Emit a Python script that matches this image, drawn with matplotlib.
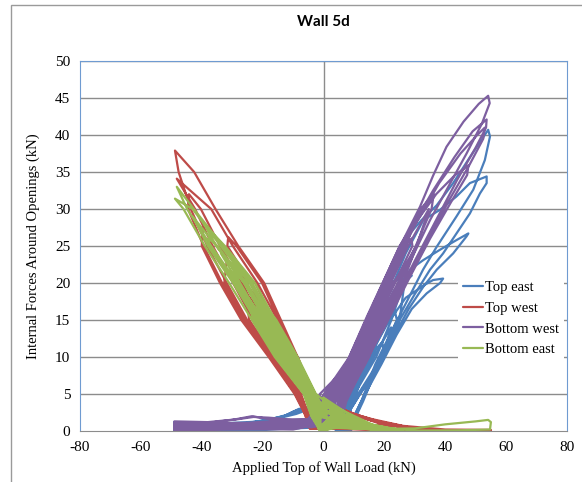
import matplotlib.pyplot as plt
from matplotlib.patches import Rectangle

plt.rcParams['axes.unicode_minus'] = False

# Top east (blue) - traced loop vertices
top_east_x = [3, -2, -6, -10, -15, -25, -40, -49, -49, -30, -12, -3, 4,
              5, 5.8, 7.2, 12.9, 10.8, 8.2, 8,
              4, 5, 6, 11, 18.7, 16.4, 9.6, 7.4, 7,
              6, 6.6, 8.4, 14.6, 19.3, 20, 12, 9, 9,
              4, -1, -5, -9, -14, -28, -49, -49, -20, -5, 3,
              5.5, 6.2, 7.8, 13.7, 18.7, 23, 24.1, 19.1, 11.4, 8.6, 8.5,
              7, 7.4, 9.6, 16.4, 22.2, 19.6, 11.7, 8.8, 8.8,
              5.3, 6, 7.5, 13.3, 18.3, 23.1, 20.5, 15.5, 9, 7, 6.5,
              5, 9, 15, 21, 27, 33, 36, 39.3, 38.3, 33.9, 29, 24, 19, 13, 9,
              4, 0, -4, -8, -13, -25, -49, -49, -15, 0, 5,
              6.5, 7, 9, 15.5, 20.5, 26.6, 25, 20, 12, 9, 9,
              4.5, 5.4, 6.6, 11.9, 16.9, 21.8, 29, 26.3, 22.3, 17.3, 10.2, 7.8, 7.5,
              6, 11, 17, 23, 28.4, 32.8, 38.3, 43.7, 47.6, 47, 42.6, 37.2, 32.8, 28, 22, 16, 10, 8,
              4, -1, -5, -10, -20, -35, -49, -49, -20, 0, 5,
              5, 10, 16, 22, 27, 32.8, 38.3, 43.7, 48.1, 53.6, 53.6, 51.4, 48.1, 43.7, 39.3, 35, 30, 25, 19, 13, 9,
              4, 8, 13, 18, 23, 28.4, 32.2, 37.2, 42.6, 48.1, 54.1, 54.7, 53, 49.2, 43.7, 37.2, 32.7, 28, 23, 17, 12, 9]
top_east_y = [0.5, 1.8, 3.2, 2.6, 1.6, 1.0, 0.8, 1.1, 0.1, 0.1, 0.3, 0.6, 0.8,
              0, 3, 5, 8, 5, 3, 0,
              0, 3, 5, 10, 15, 10, 5, 3, 0,
              0, 3, 5, 10, 12, 10, 5, 3, 0,
              0.3, 1.5, 2.9, 2.3, 1.8, 0.9, 0.9, 0.2, 0.3, 0.7, 1.2,
              0, 3, 5, 10, 15, 17, 15, 10, 5, 3, 0,
              0, 3, 5, 10, 14, 10, 5, 3, 0,
              0, 3, 5, 10, 15, 19, 15, 10, 5, 3, 0,
              1, 5, 10, 14.5, 18, 19.7, 20.4, 20.6, 20, 18.6, 16.5, 13, 9, 4.5, 1,
              0.5, 1.5, 2.8, 3.0, 2.0, 1.0, 1.2, 0.1, 0.3, 0.6, 1.5,
              0, 3, 5, 10, 15, 20, 15, 10, 5, 3, 0,
              0, 3, 5, 10, 15, 20, 21, 20, 15, 10, 5, 3, 0,
              1, 6, 11.5, 16.5, 21.8, 23.1, 24.5, 25.8, 26.7, 26.3, 24, 21.8, 19.5, 16.5, 12, 7, 2, 0,
              0.5, 2, 3.2, 2.4, 1.3, 1, 1.2, 0.3, 0.2, 0.5, 2,
              2, 7, 13, 19, 24, 28.5, 29.9, 31.7, 33.5, 34.4, 33.5, 32.1, 29.4, 26.7, 24, 21.8, 18.5, 15, 10, 4, 0.5,
              3, 7, 12, 17, 22, 26.7, 28.5, 30.5, 33.5, 37, 40.7, 39.8, 36.6, 32.6, 29, 24.9, 21.8, 18, 14, 9, 3.5, 0]

# Top west (red)
top_west_x = [0,
              -3.5, -8.5, -16.8, -12.3, -5.9, -4.6,
              -4.5, 3, 12, 22, 30, 26, 20, 14, 9, 5, 2, 0,
              -5.3, -11.4, -18.1, -24.3, -22.5, -14.7, -7.4, -5.6,
              -4, 5, 15, 20, 15, 9, 4, 0,
              -4.1, -9.5, -15.3, -26, -24.4, -16.1, -8.3, -6.2,
              -4.5, 4, 14, 26, 40, 28, 18, 10, 4, 0,
              -3.8, -9, -14.7, -20.2, -28.6, -31.3, -31.6, -23.9, -17.9, -11.4, -5.3, -4.2,
              -4.5, 5, 12, 24, 18, 12, 7, 3, 0,
              -4.7, -10.4, -16.6, -22.4, -31.8, -32.6, -25.7, -17.1, -8.9, -6.6,
              -4.5, 3, 12, 22, 28, 24, 18, 12, 7, 3, 0,
              -5.9, -12.3, -18.6, -25.3, -32.8, -39.5, -40, -34, -27, -18, -9.5, -7,
              -4, 5, 15, 22, 15, 9, 4, 0,
              -6.5, -13.3, -20.5, -26.8, -34, -40.3, -44.2, -44.5, -39.4, -33.3, -26.4, -17.5, -9.2, -6.8,
              -4.5, 4, 14, 26, 38, 28, 18, 10, 4, 0,
              -4.4, -9.9, -15.1, -21.7, -29.8, -36.9, -48.2, -42.2, -36.4, -29.7, -23.1, -15.2, -7.7, -5.8,
              -4.5, 6, 18, 30, 45, 55, 55, 40, 26, 16, 9, 3, 0,
              -3.5, -8.5, -14, -19.5, -28, -35.5, -42.5, -48.8, -47.6, -43.6, -38.2, -31.8, -25.1, -16.6, -8.6, -6.4,
              -4.5, 10, 20, 30, 45, 54.7]
top_west_y = [3.5,
              5, 10, 15, 10, 5, 3,
              0.6, 0.5, 0.4, 0.2, 0.1, 0.5, 1.0, 1.6, 2.3, 2.9, 3.5, 4.0,
              5, 10, 15, 18, 15, 10, 5, 3,
              0.8, 0.6, 0.5, 0.9, 1.6, 2.5, 3.4, 4.1,
              5, 10, 15, 20, 15, 10, 5, 3,
              0.4, 0.3, 0.3, 0.1, 0.05, 0.5, 1.3, 2.3, 3.3, 3.9,
              5, 10, 15, 20, 25, 26.2, 25, 20, 15, 10, 5, 3,
              0.3, 0.5, 0.8, 0.7, 1.2, 2.0, 2.7, 3.4, 3.9,
              5, 10, 15, 20, 23, 20, 15, 10, 5, 3,
              0.5, 0.4, 0.3, 0.2, 0.2, 0.6, 1.2, 1.9, 2.7, 3.5, 4.1,
              5, 10, 15, 20, 25, 28, 25, 20, 15, 10, 5, 3,
              0.7, 0.6, 0.4, 0.5, 1.5, 2.4, 3.2, 3.8,
              5, 10, 15, 20, 25, 30, 32, 30, 25, 20, 15, 10, 5, 3,
              0.4, 0.3, 0.2, 0.1, 0.05, 0.5, 1.3, 2.2, 3.2, 3.8,
              5, 10, 15, 20, 25, 30, 34.1, 30, 25, 20, 15, 10, 5, 3,
              0.5, 0.3, 0.2, 0.1, 0.05, 0, 0.15, 0.2, 0.7, 1.6, 2.4, 3.4, 4.2,
              5, 10, 15, 20, 25, 30, 35, 37.9, 35, 30, 25, 20, 15, 10, 5, 3,
              0.5, 0.4, 0.2, 0.1, 0.05, 0]

# Bottom west (purple)
bottom_west_x = [0, -5, -15, -23.5, -30, -40, -49, -49, -35, -20, -8, -2,
                 -1.7, -0.6, 4.3, 9.2, 12.5, 11.8, 7.3, 3, 1.5,
                 -2.1, -1.1, 3.9, 8.8, 14.3, 20.9, 16.2, 11.1, 6.5, 2.1, 0.7,
                 -0.1, 1.2, 5.8, 10.5, 15.7, 18, 17.9, 13.1, 8.8, 4.8, 3.1,
                 0, -4, -10, -20, -30, -42, -49, -49, -30, -12, -4,
                 0.3, 1.7, 6.1, 10.8, 15.9, 21.3, 19.2, 14.7, 10.6, 7.1, 5.1,
                 -2.5, -1.5, 3.5, 8.5, 14, 19.5, 25, 29.6, 27.1, 21.5, 15.7, 10.5, 5.8, 1.2, -0.1,
                 1.5, 3, 7.3, 11.8, 16.8, 22.8, 26.4, 25.4, 19, 14.4, 10.3, 6.6, 4.7,
                 0, -5, -12, -18, -23, -28, -38, -49, -49, -40, -25, -10, -3,
                 -0.9, 0.3, 5, 9.8, 15.1, 20.8, 26.4, 28.9, 29.2, 23.4, 17.3, 12.4, 8, 3.9, 2.3,
                 2.3, 3.9, 8, 12.4, 17.3, 23.4, 30.6, 26, 19.5, 15, 11, 7.5, 5.5,
                 0.7, 2.1, 6.5, 11.1, 16.2, 22.1, 27.8, 34.6, 30.6, 24.7, 18.4, 13.7, 9.5, 5.7, 3.9,
                 0, -3, -8, -16, -30, -49, -49, -30, -10, -3,
                 0, 7, 15, 23, 30, 37, 43, 47.6, 47.2, 42, 35, 28, 20, 12, 5,
                 -1.3, -0.2, 4.6, 9.5, 14.8, 20.5, 26, 31.9, 36.2, 35.5, 30.3, 24.4, 18.1, 13.4, 9.1, 5.3, 3.5,
                 0, 8, 16, 24, 31, 38, 45, 50.5, 53, 52.5, 48, 41, 34, 27, 19, 11, 4,
                 0, -3, -10, -20, -35, -49, -49, -25, -5,
                 -1, 6, 14, 22, 29, 36, 43, 49, 53.6, 53.4, 50, 44, 37, 30, 22, 15, 8, 3,
                 -1.2, -1.2, 6.5, 14.2, 23.5, 31.7, 36, 40.4, 46, 51, 54.1, 54.6, 52, 47, 41, 35, 28, 20, 14, 7, 3]
bottom_west_y = [0.5, 1.2, 1.4, 2.0, 1.5, 1.0, 0.9, 0.3, 0.5, 0.6, 0.4, 1.0,
                 1, 4, 7, 10, 12, 10, 7, 4, 1,
                 1, 4, 7, 10, 15, 20, 15, 10, 7, 4, 1,
                 1, 4, 7, 10, 15, 16, 15, 10, 7, 4, 1,
                 0.8, 0.5, 0.8, 1.0, 0.8, 0.6, 0.7, 0.1, 0.2, 0.3, 1.5,
                 1, 4, 7, 10, 15, 18, 15, 10, 7, 4, 1,
                 1, 4, 7, 10, 15, 20, 25, 28, 25, 20, 15, 10, 7, 4, 1,
                 1, 4, 7, 10, 15, 20, 22, 20, 15, 10, 7, 4, 1,
                 1, 1.5, 1.6, 1.8, 1.9, 1.6, 1.2, 1.3, 0.5, 0.6, 0.5, 0.8, 2,
                 1, 4, 7, 10, 15, 20, 25, 26, 25, 20, 15, 10, 7, 4, 1,
                 1, 4, 7, 10, 15, 20, 25, 20, 15, 10, 7, 4, 1,
                 1, 4, 7, 10, 15, 20, 25, 30, 25, 20, 15, 10, 7, 4, 1,
                 1, 1, 1, 1.2, 0.9, 0.5, 0.2, 0.3, 0.2, 0.8,
                 4.5, 8, 15, 22.5, 28, 32, 34.5, 35.9, 34.6, 31, 26, 20.5, 14, 8, 3,
                 1, 4, 7, 10, 15, 20, 25, 30, 32, 30, 25, 20, 15, 10, 7, 4, 1,
                 4, 9, 16, 23, 28.5, 33.5, 37.5, 40, 41, 39.5, 36, 31, 25.5, 20, 13.5, 7, 2,
                 0.5, 1, 0.6, 0.7, 0.5, 0.5, 1.0, 1.1, 1.6,
                 4, 7.5, 14.5, 21.5, 27.5, 32.5, 37, 40.5, 42.1, 41, 38.3, 34, 28.5, 23, 16.5, 11, 5.5, 1.5,
                 1, 5, 8.2, 15.4, 23.6, 30.3, 34.5, 38.4, 41.8, 44.2, 45.3, 44.3, 41.5, 37.5, 33, 28.5, 22.5, 16, 10, 5, 1]

# Bottom east (green)
bottom_east_x = [0, 5, 12, 20, 12, 5, 1,
                 0.5, -2.9, -6.1, -10.8, -8.4, -4.5, -1.5,
                 -1, 4, 10, 18, 24, 16, 10, 6, 3, 0,
                 -0.5, -3.7, -10.8, -18, -13.8, -5.3, -2.5,
                 -1.5, 2, 8, 16, 26, 20, 14, 8, 4, 1,
                 -2, -4.9, -13, -20.3, -23.4, -23.1, -15.6, -6.3, -3.8,
                 -1, 4, 10, 20, 15, 10, 5, 1,
                 1, -2.5, -8.5, -15.5, -21.1, -18.7, -11.5, -4.1, -1,
                 -1, 3, 8, 14, 8, 3,
                 -1.5, -4.5, -12.3, -19.5, -28.3, -22.7, -15.3, -6.1, -3.5,
                 -1.5, 3, 9, 18, 26, 18, 12, 7, 3, 0,
                 0, -3.3, -10, -17.1, -23.8, -31.1, -27.4, -20.3, -13, -4.9, -2,
                 -1.5, 2, 8, 16, 26, 20, 14, 8, 4, 1,
                 -0.8, -3.9, -11.1, -18.3, -25.2, -33.7, -27.9, -20.7, -13.4, -5.1, -2.3,
                 -1, 4, 10, 20, 15, 10, 5, 1,
                 -1, -4.1, -11.5, -18.7, -25.6, -34.8, -37.8, -37.6, -29.2, -21.9, -14.5, -5.7, -3,
                 -1, 5, 12, 22, 30, 40, 50, 54.1, 55, 54.7, 45, 30, 20, 14, 9, 5, 2, 0,
                 0.8, -2.7, -8.9, -15.9, -22.5, -32.4, -39.3, -35.2, -26.1, -19.1, -11.9, -4.3, -1.3,
                 -1.5, 3, 9, 18, 26, 18, 12, 7, 3, 0,
                 -1.3, -4.3, -11.9, -19.1, -26.1, -35.2, -43, -38, -29.7, -22.3, -14.9, -5.9, -3.3,
                 -1, 3, 8, 14, 8, 3,
                 -0.3, -3.5, -10.4, -17.5, -24.3, -33.8, -43, -48.8, -46, -39, -31, -23.5, -16, -6.5, -4,
                 -1.5, 2, 8, 16, 24, 18, 12, 7, 3, 0,
                 0.3, -3.1, -9.6, -16.7, -23.4, -33, -42.6, -48.2, -44.8, -36.9, -28.3, -21.1, -13.8, -5.3, -2.5,
                 -1, -2.5, 12, -1.5, 16, 0, 10, -1, 20, 1, 8, -2, 14, 2, 6, 0, 18, 4]
bottom_east_y = [0, 0.8, 0.4, 0.1, 0.6, 1.8, 2.5,
                 2, 5, 7.5, 10, 7.5, 5, 2,
                 0.2, 1.0, 0.6, 0.3, 0.1, 0.8, 1.6, 2.3, 3.1, 4.0,
                 2, 5, 10, 14, 10, 5, 2,
                 0.2, 0.6, 0.6, 0.3, 0.05, 0.4, 1.0, 1.9, 2.7, 3.6,
                 2, 5, 10, 15, 16, 15, 10, 5, 2,
                 0.1, 1.2, 1.3, 0.5, 0.9, 1.5, 2.6, 4.2,
                 2, 5, 10, 15, 18, 15, 10, 5, 2,
                 0.3, 1.8, 1.1, 0.5, 1.4, 2.8,
                 2, 5, 10, 15, 20, 15, 10, 5, 2,
                 0.5, 2.0, 1.4, 0.6, 0.1, 0.6, 1.3, 2.1, 3.0, 4.4,
                 2, 5, 10, 15, 20, 23, 20, 15, 10, 5, 2,
                 0.2, 0.8, 0.7, 0.3, 0.05, 0.4, 0.9, 1.8, 2.6, 3.5,
                 2, 5, 10, 15, 20, 24, 20, 15, 10, 5, 2,
                 0.1, 1.4, 1.2, 0.4, 0.8, 1.4, 2.4, 3.9,
                 2, 5, 10, 15, 20, 25, 26, 25, 20, 15, 10, 5, 2,
                 0, 0.5, 0.3, 0.3, 0.35, 0.9, 1.3, 1.5, 1.2, 0.2, 0.1, 0.05, 0.4, 0.9, 1.5, 2.3, 3.2, 4.3,
                 2, 5, 10, 15, 20, 25, 28, 25, 20, 15, 10, 5, 2,
                 0.4, 2.2, 1.5, 0.7, 0.1, 0.5, 1.1, 2.0, 2.9, 4.0,
                 2, 5, 10, 15, 20, 25, 29, 25, 20, 15, 10, 5, 2,
                 0.2, 1.5, 0.9, 0.5, 1.6, 3.0,
                 2, 5, 10, 15, 20, 25, 30, 31.4, 30, 25, 20, 15, 10, 5, 2,
                 0.3, 0.7, 0.5, 0.2, 0.05, 0.4, 1.2, 2.2, 3.3, 4.5,
                 2, 5, 10, 15, 20, 25, 30, 33, 30, 25, 20, 15, 10, 5, 2,
                 0.1, 5, 0.3, 4, 0.2, 4.5, 0.8, 3, 0.1, 3.8, 1.5, 2, 0.4, 3.4, 2.2, 0.5, 0.2, 0.6]

series = [("Top east", top_east_x, top_east_y, "#4A7EBB"),
          ("Top west", top_west_x, top_west_y, "#BE4B48"),
          ("Bottom west", bottom_west_x, bottom_west_y, "#7D5FA0"),
          ("Bottom east", bottom_east_x, bottom_east_y, "#98B954")]

fig = plt.figure(figsize=(5.82, 4.82), dpi=100)
fig.patches.append(Rectangle((11 / 582, -0.1), 1.2, 1 - 5 / 482 + 0.1, transform=fig.transFigure,
                             fill=False, edgecolor="#9a9a9a", linewidth=1.0))
ax = fig.add_axes([80 / 582, 51 / 482, 487 / 582, 370 / 482])

for y in range(5, 51, 5):
    ax.axhline(y, color="#8c8c8c", linewidth=1.0, zorder=0)
ax.axvline(0, color="#8c8c8c", linewidth=1.0, zorder=0)

for name, xs, ys, c in series:
    ax.plot(xs, ys, color=c, linewidth=1.6, label=name, solid_joinstyle="round", solid_capstyle="round")

ax.set_xlim(-80, 80)
ax.set_ylim(0, 50)
ax.set_xticks(range(-80, 81, 20))
ax.set_yticks(range(0, 51, 5))
ax.tick_params(length=0, pad=7, labelsize=11)
for lab in ax.get_xticklabels() + ax.get_yticklabels():
    lab.set_fontfamily("Liberation Serif")
for side in ["left", "right", "top"]:
    ax.spines[side].set_color("#6f9bd1")
ax.spines["bottom"].set_color("#8c8c8c")

ax.set_xlabel("Applied Top of Wall Load (kN)", fontfamily="Liberation Serif", fontsize=10.5, labelpad=5)
ax.set_ylabel("Internal Forces Around Openings (kN)", fontfamily="Liberation Serif", fontsize=10.5, labelpad=11)
fig.text(323 / 582, 1 - 22 / 482, "Wall 5d", fontfamily="Lato", fontweight="bold", fontsize=11,
         ha="center", va="center")

leg = ax.legend(loc="center", bbox_to_anchor=(0.885, 0.304), frameon=True, fancybox=False,
                prop={"family": "Liberation Serif", "size": 10.5}, handlelength=1.4,
                handletextpad=0.15, labelspacing=0.52, borderpad=0.3)
leg.get_frame().set_edgecolor("none")
leg.get_frame().set_facecolor("white")
leg.get_frame().set_alpha(1)

fig.savefig("out.png", dpi=100)
